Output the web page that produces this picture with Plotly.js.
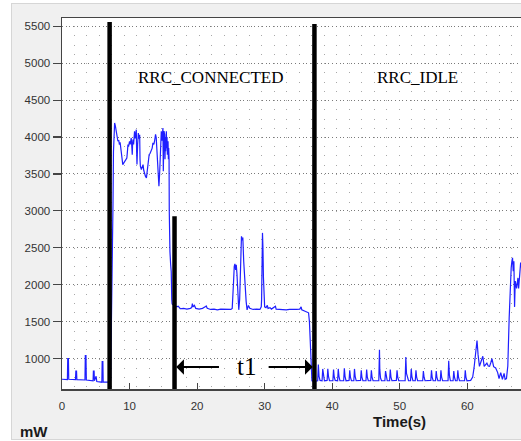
<!DOCTYPE html>
<html>
<head>
<meta charset="utf-8">
<script src="https://cdn.plot.ly/plotly-3.0.1.min.js"></script>
<style>
  html, body { margin: 0; padding: 0; background: #ffffff; width: 521px; height: 441px; overflow: hidden; }
  #frame { position: absolute; left: 11px; top: 3px; width: 510px; height: 435px; border-top: 1px solid #d6d6d6; border-left: 1px solid #d6d6d6; border-bottom: 1px solid #d6d6d6; background: #f0f0f0; }
  #plot { position: absolute; left: 0px; top: 0px; width: 510px; height: 435px; }
</style>
</head>
<body>
<div id="frame"><div id="plot"></div></div>
<script>
// ---- data ----
var timeS = [
  0, 0.8, 0.85, 0.95, 1.0, 2.0, 2.05, 2.15, 2.2, 3.4, 3.45, 3.55, 3.6, 4.6, 4.65, 4.75, 4.8, 5.05, 5.15, 5.9, 5.95, 6.05, 6.1, 6.9, 7.2,
  7.25, 7.3, 7.4, 7.45, 7.5, 7.55, 7.62, 7.7,
  7.79, 7.9, 8.03, 8.15, 8.28, 8.4, 8.5, 8.6, 8.77, 8.9, 9.0, 9.15, 9.27, 9.45, 9.6, 9.7, 9.76, 9.85, 10.0, 10.1, 10.25, 10.35, 10.4, 10.45, 10.5, 10.6, 10.74, 10.85, 10.9, 11.0, 11.05, 11.1, 11.2, 11.3, 11.4, 11.5, 11.55, 11.6, 11.75, 11.9, 12.0, 12.1, 12.2, 12.35, 12.5, 12.6, 12.75, 12.9, 13.05, 13.2, 13.35, 13.46, 13.6, 13.7, 13.85, 13.95, 14.05, 14.2, 14.35, 14.45, 14.55, 14.62, 14.7, 14.8, 14.85, 14.94, 15.0, 15.05, 15.1, 15.2, 15.25, 15.3, 15.35, 15.4, 15.45, 15.5, 15.55, 15.6, 15.65, 15.7, 15.75, 15.8, 15.85,
  15.88, 15.92, 15.98, 16.08, 16.17, 16.25, 16.3,
  16.6, 17.0, 17.2, 17.5, 18.0, 18.5, 19.0, 19.2, 19.3, 19.4, 19.6, 19.8, 20.3, 20.8, 21.2, 21.35, 21.5, 22.0, 22.5, 23.0, 23.5, 24.0, 24.5, 25.0, 25.2, 25.3, 25.4, 25.5, 25.6, 25.7, 25.8, 25.9, 26.0, 26.1, 26.17, 26.3, 26.4, 26.5, 26.57, 26.7, 26.77, 26.9, 27.0, 27.06, 27.15, 27.26, 27.4, 27.6, 27.8, 28.3, 28.8, 29.3, 29.5, 29.55, 29.62, 29.68, 29.75, 29.82, 29.9, 30.0, 30.2, 30.4, 30.5, 30.8, 31.0, 31.4, 31.6, 31.7, 32.2, 32.7, 33.2, 33.7, 34.2, 34.7, 35.2, 35.4, 35.5, 35.9, 36.3, 36.5, 36.63, 36.8, 36.9,
  37.0, 37.3, 37.6, 37.85, 37.95, 38.05, 38.2, 38.5, 38.6, 38.7, 38.85, 39.25, 39.35, 39.45, 39.6, 40.1, 40.2, 40.3, 40.45, 40.8, 40.9, 41.0, 41.15, 41.7, 41.8, 41.9, 42.05, 42.5, 42.6, 42.7, 42.85, 43.2, 43.3, 43.4, 43.55, 44.2, 44.3, 44.4, 44.55, 45.0, 45.1, 45.2, 45.35, 45.7, 45.8, 45.9, 46.05, 46.9, 47.0, 47.05, 47.15, 47.3, 47.8, 47.9, 48.0, 48.15, 48.5, 48.6, 48.7, 48.85, 49.5, 49.6, 49.7, 49.85, 50.8, 50.9, 51.0, 51.15, 51.3, 51.6, 51.7, 51.8, 51.95, 52.3, 52.4, 52.5, 52.65, 53.4, 53.5, 53.6, 53.75, 54.6, 54.7, 54.8, 54.95, 55.3, 55.4, 55.5, 55.65, 56.0, 56.1, 56.2, 56.35, 57.15, 57.25, 57.35, 57.5, 57.9, 58.0, 58.1, 58.25, 58.5, 58.6, 58.7, 58.85, 59.6, 59.7, 59.8, 59.95, 60.5,
  60.8, 61.0, 61.25, 61.44, 61.6, 61.8, 62.0, 62.3, 62.5, 62.7, 62.9, 63.1, 63.3, 63.5, 63.65, 63.9, 64.2, 64.5, 64.7, 64.95, 65.2, 65.45, 65.6, 65.8, 66.0, 66.2, 66.35, 66.5, 66.6, 66.7, 66.8, 66.9, 67.0, 67.1, 67.3, 67.5, 67.6, 67.75, 67.9, 68.1
];
var powerMW = [
  720, 715, 1000, 1000, 720, 715, 830, 830, 715, 710, 1040, 1040, 710, 700, 830, 830, 700, 760, 690, 680, 960, 960, 680, 680, 700,
  1000, 1200, 1700, 2100, 2600, 3100, 3800, 4100,
  4190, 4150, 4078, 3990, 3943, 3960, 3898, 3930, 3767, 3700, 3627, 3650, 3670, 3700, 3717, 3820, 3900, 3870, 3943, 3900, 3988, 3850, 3760, 3900, 3965, 3900, 4078, 3980, 4010, 4100, 3800, 3630, 3900, 4055, 3980, 4030, 3700, 3605, 3560, 3600, 3627, 3550, 3492, 3470, 3447, 3520, 3627, 3760, 3780, 3807, 3850, 3920, 3900, 3943, 4035, 3988, 3800, 3447, 3333, 3500, 3670, 3900, 4078, 3950, 4100, 4122, 3537, 3900, 4080, 4035, 3700, 4000, 3807, 3950, 4078, 3850, 4000, 3760, 3900, 3943, 3700, 3850, 3700,
  3000, 2600, 2450, 2280, 2180, 1800, 1740,
  1720, 1700, 1710, 1675, 1680, 1670, 1680, 1690, 1745, 1700, 1720, 1680, 1670, 1680, 1700, 1712, 1680, 1665, 1670, 1660, 1670, 1665, 1670, 1665, 1680, 1800, 2047, 2250, 2283, 2200, 2270, 2150, 1957, 1750, 1660, 1800, 2092, 2400, 2656, 2600, 2640, 2318, 2150, 2047, 1850, 1775, 1660, 1720, 1680, 1665, 1670, 1665, 1700, 1800, 2300, 2702, 2500, 2100, 1800, 1700, 1690, 1720, 1680, 1690, 1670, 1690, 1710, 1670, 1665, 1665, 1660, 1665, 1660, 1665, 1670, 1700, 1660, 1645, 1630, 1620, 1500, 1100, 740,
  700, 690, 700, 700, 920, 760, 705, 700, 860, 750, 700, 705, 860, 760, 700, 700, 850, 750, 705, 700, 860, 760, 700, 700, 870, 760, 700, 705, 840, 750, 700, 700, 860, 760, 700, 705, 840, 750, 700, 700, 850, 750, 700, 700, 840, 750, 700, 700, 1120, 850, 740, 700, 700, 830, 750, 700, 700, 850, 750, 700, 705, 840, 750, 700, 700, 1020, 800, 720, 700, 700, 860, 760, 700, 700, 840, 750, 700, 700, 830, 750, 700, 705, 840, 750, 700, 700, 830, 750, 700, 700, 840, 750, 700, 700, 970, 780, 700, 700, 830, 750, 700, 700, 840, 750, 700, 700, 840, 750, 700, 705,
  750, 873, 1054, 1244, 1050, 895, 950, 1031, 895, 920, 940, 900, 895, 950, 1000, 890, 873, 810, 730, 810, 720, 800, 720, 730, 900, 1550, 2047, 2228, 2318, 2364, 2183, 2318, 1700, 2050, 1950, 2092, 1950, 2183, 2300, 2200
];

// state boundary bars (time, top value)
var boundaryX   = [7.05, 16.66, 37.37];
var boundaryTop = [5557, 2927, 5531];
var axisFloor   = 588;

// state labels
var stateNames = ['RRC_CONNECTED', 'RRC_IDLE'];
var stateX     = [21.96, 52.6];
var stateY     = [4809, 4809];

// t1 interval arrows
var t1Label = 't1';
var t1Y = 886;
var t1Left  = [23.46, 16.9];   // tail, head
var t1Right = [30.37, 37.13];  // tail, head
var t1TextX = 27.26;

var yTicks = [1000, 1500, 2000, 2500, 3000, 3500, 4000, 4500, 5000, 5500];
var xTicks = [0, 10, 20, 30, 40, 50, 60];

// ---- traces ----
var traces = [{
  x: timeS, y: powerMW, type: 'scatter', mode: 'lines',
  line: {color: '#1f1fff', width: 1.2},
  hoverinfo: 'skip', showlegend: false
}];
for (var i = 0; i < boundaryX.length; i++) {
  traces.push({
    x: [boundaryX[i], boundaryX[i]], y: [axisFloor, boundaryTop[i]],
    type: 'scatter', mode: 'lines',
    line: {color: '#000000', width: 4.5},
    hoverinfo: 'skip', showlegend: false, cliponaxis: false
  });
}

var serif = 'Liberation Serif, Times New Roman, serif';
var sans = 'Liberation Sans, Arial, sans-serif';

var annotations = [];
for (var j = 0; j < stateNames.length; j++) {
  annotations.push({
    x: stateX[j], y: stateY[j], xref: 'x', yref: 'y', text: stateNames[j],
    showarrow: false, font: {family: serif, size: 17, color: '#000'},
    xanchor: 'center', yanchor: 'middle'
  });
}
annotations.push({
  x: t1Left[1], y: t1Y, ax: t1Left[0], ay: t1Y, xref: 'x', yref: 'y', axref: 'x', ayref: 'y',
  text: '', showarrow: true, arrowhead: 1, arrowsize: 1.3, arrowwidth: 2, arrowcolor: '#000', standoff: 0, startstandoff: 0
});
annotations.push({
  x: t1Right[1], y: t1Y, ax: t1Right[0], ay: t1Y, xref: 'x', yref: 'y', axref: 'x', ayref: 'y',
  text: '', showarrow: true, arrowhead: 1, arrowsize: 1.3, arrowwidth: 2, arrowcolor: '#000', standoff: 0, startstandoff: 0
});
annotations.push({
  x: t1TextX, y: t1Y, xref: 'x', yref: 'y', text: t1Label, showarrow: false,
  font: {family: serif, size: 25, color: '#000'}, xanchor: 'center', yanchor: 'middle'
});
annotations.push({
  x: 50, y: -0.087, xref: 'x', yref: 'paper', text: '<b>Time(s)</b>', showarrow: false,
  font: {family: sans, size: 15, color: '#1a1a1a'}, xanchor: 'center', yanchor: 'middle'
});
annotations.push({
  x: -0.0613, y: -0.1154, xref: 'paper', yref: 'paper', text: '<b>mW</b>', showarrow: false,
  font: {family: sans, size: 15, color: '#1a1a1a'}, xanchor: 'center', yanchor: 'middle'
});

var layout = {
  width: 510, height: 435,
  margin: {l: 49.7, r: 0, t: 13.7, b: 50.3, pad: 0},
  paper_bgcolor: '#f0f0f0', plot_bgcolor: '#ffffff',
  font: {family: sans, size: 11.5, color: '#333'},
  showlegend: false,
  xaxis: {
    range: [0, 68.1], tickvals: xTicks, ticktext: xTicks.map(String),
    ticks: 'inside', ticklen: 6, tickwidth: 1.2, tickcolor: '#444',
    showline: true, linecolor: '#444', linewidth: 1.5, mirror: true,
    showgrid: false, zeroline: false, ticklabelstandoff: 6,
    tickfont: {family: sans, size: 11.5, color: '#333'},
    minor: {tick0: 0, dtick: 1.85, showgrid: true, gridcolor: '#a8a8a8', gridwidth: 1, griddash: '0px,8.23px,1px,0px'},
    fixedrange: true
  },
  yaxis: {
    range: [588, 5612], tickvals: yTicks, ticktext: yTicks.map(String),
    ticks: 'outside', ticklen: 8, tickwidth: 1.2, tickcolor: '#444',
    showline: true, linecolor: '#444', linewidth: 1.5, mirror: false,
    showgrid: true, gridcolor: '#7a7a7a', gridwidth: 1, griddash: '1px,2.7px',
    zeroline: false, tickfont: {family: sans, size: 11.5, color: '#333'},
    fixedrange: true
  },
  annotations: annotations
};

Plotly.newPlot('plot', traces, layout, {staticPlot: true, displayModeBar: false});
</script>
</body>
</html>
